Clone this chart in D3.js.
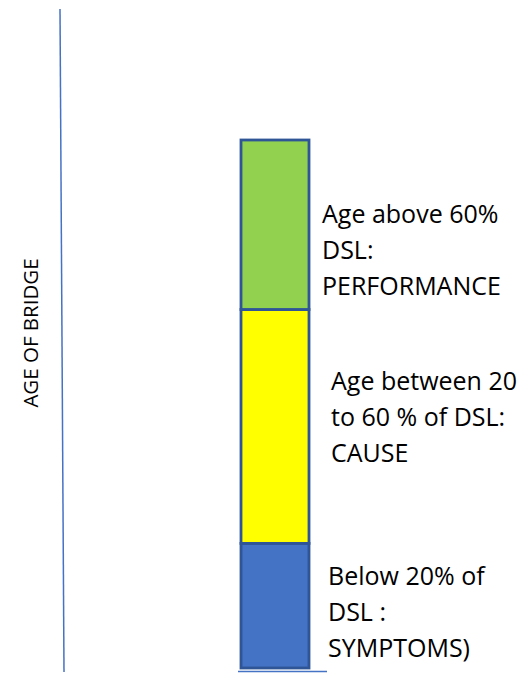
<!DOCTYPE html>
<html>
<head>
<meta charset="utf-8">
<script src="https://cdn.jsdelivr.net/npm/d3@7"></script>
<style>
  body { margin: 0; background: #fff; }
  text { font-family: "Open Sans", sans-serif; fill: #000; }
</style>
</head>
<body>
<div id="chart"></div>
<script>
// stages of bridge life, bottom to top (share of design service life shown)
var stages = ["SYMPTOMS", "CAUSE", "PERFORMANCE"];
var stageValues = [23.6, 44.3, 32.1];
var stageColors = ["#4472c4", "#ffff00", "#92d050"];
var stageLabels = [
    ["Below 20% of", "DSL :", "SYMPTOMS)"],
    ["Age between 20", "to 60 % of DSL:", "CAUSE"],
    ["Age above 60%", "DSL:", "PERFORMANCE"]
];
var labelX = [328, 331, 322];
var labelShift = [6, -9, 25];
var axisTitle = "AGE OF BRIDGE";

var width = 526, height = 673;

var svg = d3.select("#chart").append("svg")
    .attr("width", width)
    .attr("height", height);

// y scale, 0 at the bottom of the bar
var y = d3.scaleLinear()
    .domain([0, 100])
    .range([668, 140]);

var x = d3.scaleBand()
    .domain(["bridge"])
    .range([241, 309]);

// cumulative stack
var stacked = [];
var acc = 0;
stageValues.forEach(function(v, i) {
    stacked.push({ name: stages[i], y0: acc, y1: acc + v, color: stageColors[i], lines: stageLabels[i], i: i });
    acc += v;
});

// the plain age axis line on the left
var axisY = d3.scaleLinear().domain([0, 1]).range([672, 9]);
svg.append("line")
    .attr("x1", 64).attr("y1", axisY(0))
    .attr("x2", 60).attr("y2", axisY(1))
    .attr("stroke", "#4472c4")
    .attr("stroke-width", 1.5);

svg.append("text")
    .attr("transform", "translate(38," + 333 + ") rotate(-90)")
    .style("text-anchor", "middle")
    .style("font-size", "20.5px")
    .text(axisTitle);

// bar segments
svg.selectAll("rect.seg")
    .data(stacked)
    .enter().append("rect")
        .attr("class", "seg")
        .attr("x", x("bridge"))
        .attr("y", function(d) { return y(d.y1); })
        .attr("width", x.bandwidth())
        .attr("height", function(d) { return y(d.y0) - y(d.y1); })
        .attr("fill", function(d) { return d.color; })
        .attr("stroke", "#2f5597")
        .attr("stroke-width", 2.8);

// base line under the bar
svg.append("line")
    .attr("x1", x("bridge") - 3).attr("y1", y(0) + 3.5)
    .attr("x2", x("bridge") + x.bandwidth() + 18).attr("y2", y(0) + 3.5)
    .attr("stroke", "#4472c4")
    .attr("stroke-width", 1.5);

// stage labels
var lineGap = 36;
stacked.forEach(function(d) {
    var mid = (y(d.y0) + y(d.y1)) / 2 + labelShift[d.i];
    var t = svg.append("text")
        .attr("x", labelX[d.i])
        .attr("y", mid - lineGap + 9)
        .style("font-size", "25px");
    d.lines.forEach(function(s, k) {
        t.append("tspan")
            .attr("x", labelX[d.i])
            .attr("dy", k === 0 ? 0 : lineGap)
            .text(s);
    });
});
</script>
</body>
</html>
